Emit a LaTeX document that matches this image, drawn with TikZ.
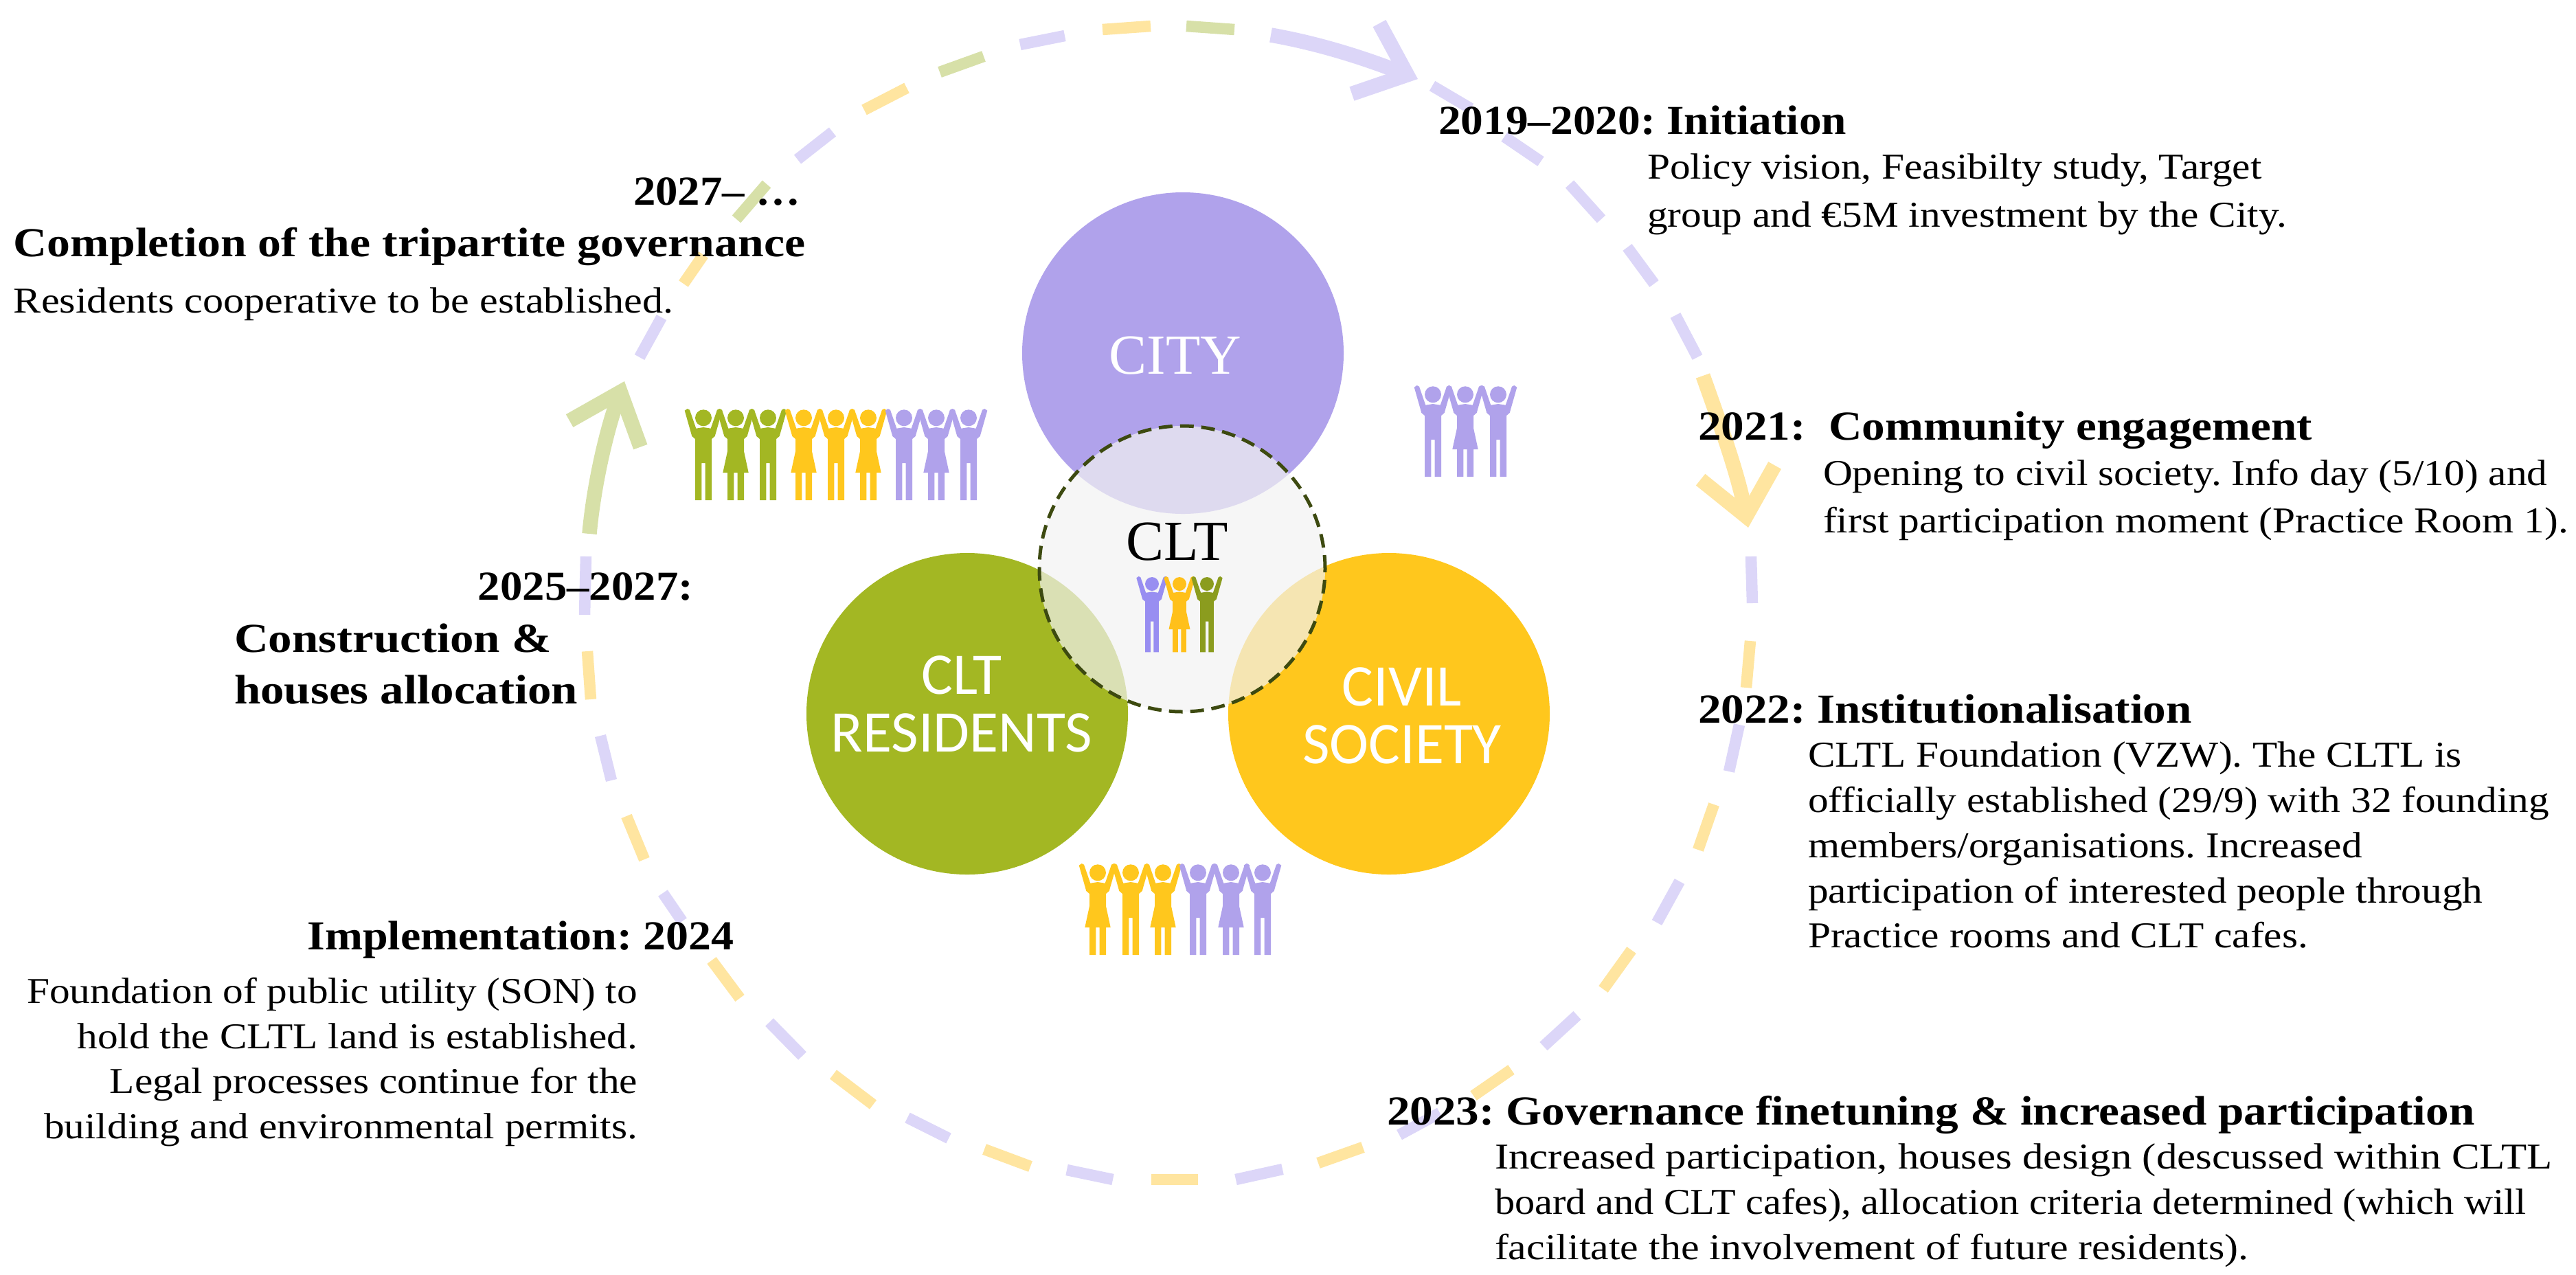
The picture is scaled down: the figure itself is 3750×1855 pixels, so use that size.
\documentclass[tikz,border=0pt]{standalone}
\usepackage{fontspec}
\setmainfont{Liberation Serif}
\newfontfamily\labelfont{Carlito}
\usetikzlibrary{arrows.meta}

\definecolor{cityc}{HTML}{B0A2EB}
\definecolor{residc}{HTML}{A3B723}
\definecolor{civilc}{HTML}{FFC71D}
\definecolor{cltc}{HTML}{F2F2F2}
\definecolor{cltdash}{HTML}{3D4A10}
\definecolor{ringp}{HTML}{DCD6F8}
\definecolor{ringy}{HTML}{FFE5A0}
\definecolor{ringg}{HTML}{D7E0A8}

\tikzset{
    manfig/.pic={
        \path[pic actions] (0,27) -- (10.7,28.7) -- (20,1.7) -- (23.3,0) -- (27.3,2.7) -- (16.7,40) -- (12,44) -- (12,133) -- (2.7,133) -- (2.7,79) -- (-2.7,79) -- (-2.7,133) -- (-12,133) -- (-12,44) -- (-16.7,40) -- (-27.3,2.7) -- (-23.3,0) -- (-20,1.7) -- (-10.7,28.7) -- cycle;
        \path[pic actions] (0,13.3) circle[radius=12];
    },
    womanfig/.pic={
        \path[pic actions] (0,27) -- (10.7,28.7) -- (20,1.7) -- (23.3,0) -- (27.3,2.7) -- (16.7,40) -- (12,44) -- (12,62) -- (18.7,93) -- (12,93) -- (12,133) -- (2.7,133) -- (2.7,93) -- (-2.7,93) -- (-2.7,133) -- (-12,133) -- (-12,93) -- (-18.7,93) -- (-12,62) -- (-12,44) -- (-16.7,40) -- (-27.3,2.7) -- (-23.3,0) -- (-20,1.7) -- (-10.7,28.7) -- cycle;
        \path[pic actions] (0,13.3) circle[radius=12];
    }
}

\begin{document}
\frenchspacing
\begin{tikzpicture}[x=0.2pt,y=-0.2pt,
    disc/.style={circle, minimum size=93.6pt, inner sep=0pt, fill=#1},
    ringdash/.style={line width=3.3pt},
    ringarrow/.style={line width=4.3pt, -{Straight Barb[length=13pt,width=22pt]}, line join=round},
    head/.style={inner sep=0pt, font=\fontsize{12}{15}\selectfont\bfseries\addfontfeature{FakeStretch=#1}},
    head/.default=1.12,
    body/.style={inner sep=0pt, font=\fontsize{10.6}{13.9}\selectfont\addfontfeature{FakeStretch=#1}},
    body/.default=1.12,
    bodytight/.style={inner sep=0pt, font=\fontsize{10.6}{13.15}\selectfont\addfontfeature{FakeStretch=#1}},
    bodytight/.default=1.12,
    disclabel/.style={text=white, inner sep=0pt, align=center, font=\labelfont\fontsize{17.2}{16.8}\selectfont},
    serifdisc/.style={inner sep=0pt, font=\fontsize{16.5}{20}\selectfont}
    ]
    \useasboundingbox (0,0) rectangle (3750,1855);

    % ring of dashes
    \foreach \xa/\ya/\xb/\yb/\colr in {
        2085/125/2141/158/ringp, 2190/199/2243/235/ringp, 2285/268/2331/319/ringp,
        2369/360/2408/413/ringp, 2439/459/2471/520/ringp,
        2549/810/2551/878/ringp, 2548/933/2542/1001/ringy, 2532/1055/2517/1123/ringp,
        2495/1171/2472/1237/ringy, 2445/1283/2412/1343/ringp, 2375/1383/2334/1440/ringy,
        2296/1478/2247/1523/ringp, 2200/1557/2145/1595/ringy, 2096/1620/2037/1652/ringp,
        1984/1670/1919/1693/ringy, 1867/1702/1799/1717/ringp, 1744/1717/1676/1717/ringy,
        1620/1717/1553/1703/ringp, 1500/1698/1433/1673/ringy, 1381/1657/1321/1627/ringp,
        1271/1608/1213/1564/ringy, 1168/1537/1120/1488/ringp, 1077/1453/1036/1398/ringy,
        993/1341/965/1300/ringp, 938/1251/912/1188/ringy, 890/1136/874/1071/ringp,
        860/1018/855/948/ringy, 851/895/853/810/ringp,
        931/520/963/462/ringp, 995/413/1024/371/ringy, 1072/319/1116/268/ringg,
        1161/232/1212/192/ringp, 1258/160/1320/128/ringy, 1368/105/1432/82/ringg,
        1485/65/1550/52/ringp, 1605/43/1675/38/ringy, 1727/38/1797/43/ringg}
        \draw[ringdash, \colr] (\xa,\ya) -- (\xb,\yb);

    \draw[ringarrow, ringp] (1850,51) .. controls (1930,65) and (2000,90) .. (2064,115);
    \draw[ringarrow, ringy] (2479,547) .. controls (2505,620) and (2530,690) .. (2545,768);
    \draw[ringarrow, ringg] (858,777) .. controls (865,700) and (885,620) .. (909,555);

    \node[disc=cityc] (city) at (1722,514) {};
    \node[disc=residc] (resid) at (1408,1039) {};
    \node[disc=civilc] (civil) at (2022,1039) {};
    \node[circle, minimum size=83.2pt, inner sep=0pt, fill=cltc, fill opacity=.7, draw=cltdash, line width=1pt, dash pattern=on 4pt off 2.2pt] (clt) at (1721,828) {};

    \node[serifdisc, text=white] (citylabel) at (1711,518) {CITY};
    \node[serifdisc] (cltlabel) at (1714,789) {CLT};
    \node[disclabel] (residlabel) at (1400,1025) {CLT\\RESIDENTS};
    \node[disclabel] (civillabel) at (2041,1042) {CIVIL\\SOCIETY};

    % people
    \foreach \xp/\figr/\colr in {1024/manfig/residc, 1071/womanfig/residc, 1118/manfig/residc,
        1170/womanfig/civilc, 1217/manfig/civilc, 1264/womanfig/civilc,
        1316/manfig/cityc, 1363/womanfig/cityc, 1410/manfig/cityc}
        \pic[fill=\colr] at (\xp,595) {\figr};
    \foreach \xp/\figr/\colr in {2086/manfig/cityc, 2133/womanfig/cityc, 2181/manfig/cityc}
        \pic[fill=\colr] at (\xp,561) {\figr};
    \foreach \xp/\figr/\colr in {1598/womanfig/civilc, 1646/manfig/civilc, 1693/womanfig/civilc,
        1744/manfig/cityc, 1792/womanfig/cityc, 1838/manfig/cityc}
        \pic[fill=\colr] at (\xp,1257) {\figr};
    \foreach \xp/\figr/\colr in {1677/manfig/{cityc!80!blue!90!white}, 1717/womanfig/{civilc!90!orange}, 1757/manfig/{residc!85!black}}
        \pic[fill=\colr, scale=.83] at (\xp,839) {\figr};

    % steps
    \node[head=1.09, anchor=base west] (initiation) at (2093,195) {2019--2020: Initiation};
    \node[body, anchor=north west, align=left] (initiationtext) at (2397,223) {Policy vision, Feasibilty study, Target\\group and €5M investment by the City.};

    \node[head, anchor=base west] (engagement) at (2471,640) {2021:\ \ Community engagement};
    \node[body, anchor=north west, align=left] (engagementtext) at (2653,668) {Opening to civil society. Info day (5/10) and\\first participation moment (Practice Room 1).};

    \node[head, anchor=base west] (institution) at (2471,1052) {2022: Institutionalisation};
    \node[bodytight, anchor=north west, align=left] (institutiontext) at (2631,1079) {CLTL Foundation (VZW). The CLTL is\\officially established (29/9) with 32 founding\\members/organisations. Increased\\participation of interested people through\\Practice rooms and CLT cafes.};

    \node[head, anchor=base west] (finetuning) at (2018,1637) {2023: Governance finetuning \& increased participation};
    \node[bodytight=1.15, anchor=north west, align=left] (finetuningtext) at (2175,1664) {Increased participation, houses design (descussed within CLTL\\{\addfontfeature{FakeStretch=1.1}board and CLT cafes), allocation criteria determined (which will}\\{\addfontfeature{FakeStretch=1.13}facilitate the involvement of future residents).}};

    \node[head=1.1, anchor=base east] (implementation) at (1070,1382) {Implementation: 2024};
    \node[bodytight, anchor=north east, align=right] (implementationtext) at (929,1422) {Foundation of public utility (SON) to\\hold the CLTL land is established.\\Legal processes continue for the\\building and environmental permits.};

    \node[head=1.08, anchor=base east] (construction) at (1010,873) {2025--2027:};
    \node[head=1.15, anchor=north west, align=left] (constructiontext) at (340,907) {Construction \&\\houses allocation};

    \node[head=1.08, anchor=base east] (completionyear) at (1166,298) {2027-- …};
    \node[head=1.13, anchor=base west] (completion) at (19,373) {Completion of the tripartite governance};
    \node[body=1.135, anchor=base west] (completiontext) at (19,455) {Residents cooperative to be established.};
\end{tikzpicture}
\end{document}
